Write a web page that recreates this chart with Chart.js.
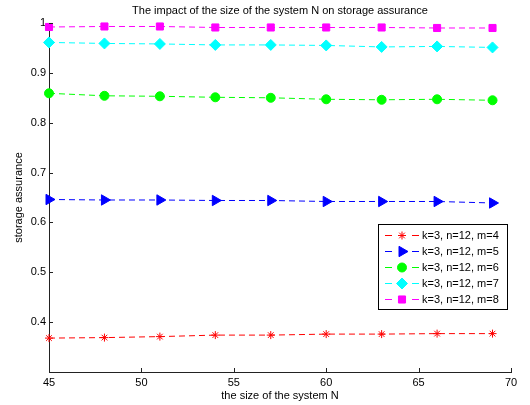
<!DOCTYPE html>
<html>
<head>
<meta charset="utf-8">
<script src="https://cdn.jsdelivr.net/npm/chart.js@4/dist/chart.umd.min.js"></script>
<style>
  body { margin: 0; background: #fff; }
  canvas { display: block; }
</style>
</head>
<body>
<canvas id="chart" width="530" height="405"></canvas>
<script>
const systemSizes = [45, 48, 51, 54, 57, 60, 63, 66, 69];
const m4 = [0.368, 0.369, 0.371, 0.374, 0.374, 0.376, 0.376, 0.377, 0.377];
const m5 = [0.646, 0.645, 0.645, 0.644, 0.644, 0.642, 0.642, 0.642, 0.639];
const m6 = [0.859, 0.854, 0.853, 0.851, 0.850, 0.847, 0.846, 0.847, 0.845];
const m7 = [0.961, 0.959, 0.958, 0.956, 0.956, 0.955, 0.952, 0.953, 0.951];
const m8 = [0.992, 0.993, 0.993, 0.991, 0.991, 0.991, 0.991, 0.990, 0.990];
const seriesLabels = ['k=3, n=12, m=4', 'k=3, n=12, m=5', 'k=3, n=12, m=6', 'k=3, n=12, m=7', 'k=3, n=12, m=8'];

const FONT = 'Liberation Sans, Arial, sans-serif';

function series(label, values, color, style, radius, rotation) {
  return {
    label: label,
    data: systemSizes.map((x, i) => ({x: x, y: values[i]})),
    borderColor: color,
    backgroundColor: color,
    borderWidth: 1,
    borderDash: [6, 4],
    pointStyle: style,
    pointRadius: radius,
    pointRotation: rotation || 0,
    pointBorderColor: color,
    pointBackgroundColor: color,
    pointBorderWidth: 1,
    clip: false,
  };
}

// inward tick marks, MATLAB style
const inwardTicks = {
  id: 'inwardTicks',
  afterDatasetsDraw(chart) {
    const ctx = chart.ctx;
    const {left, bottom} = chart.chartArea;
    ctx.save();
    ctx.strokeStyle = '#222';
    ctx.lineWidth = 1;
    ctx.beginPath();
    chart.scales.x.ticks.forEach(t => {
      const px = Math.round(chart.scales.x.getPixelForValue(t.value)) + 0.5;
      ctx.moveTo(px, bottom);
      ctx.lineTo(px, bottom - 4);
    });
    chart.scales.y.ticks.forEach(t => {
      const py = Math.round(chart.scales.y.getPixelForValue(t.value)) + 0.5;
      ctx.moveTo(left, py);
      ctx.lineTo(left + 4, py);
    });
    ctx.stroke();
    ctx.restore();
  }
};

const titleAndLegend = {
  id: 'titleAndLegend',
  afterDraw(chart) {
    const ctx = chart.ctx;
    const {left, right} = chart.chartArea;
    ctx.save();
    ctx.fillStyle = '#000';
    ctx.font = '11px ' + FONT;
    ctx.textAlign = 'center';
    ctx.textBaseline = 'middle';
    ctx.fillText('The impact of the size of the system N on storage assurance', (left + right) / 2, 11);

    // legend box
    const bx = 378.5, by = 224.5, bw = 129, bh = 85;
    ctx.fillStyle = '#fff';
    ctx.fillRect(bx, by, bw, bh);
    ctx.strokeStyle = '#000';
    ctx.lineWidth = 1;
    ctx.strokeRect(bx, by, bw, bh);
    chart.data.datasets.forEach((ds, i) => {
      const y = 235.5 + i * 16;
      ctx.strokeStyle = ds.borderColor;
      ctx.beginPath();
      ctx.moveTo(385, y); ctx.lineTo(392, y);
      ctx.moveTo(412, y); ctx.lineTo(419, y);
      ctx.stroke();
      ctx.fillStyle = ds.pointBackgroundColor;
      Chart.helpers.drawPoint(ctx, {
        pointStyle: ds.pointStyle,
        radius: ds.pointRadius,
        rotation: ds.pointRotation,
        borderWidth: 1,
      }, 402, y);
      ctx.fillStyle = '#000';
      ctx.textAlign = 'left';
      ctx.font = '11px ' + FONT;
      ctx.fillText(ds.label, 422, y);
    });
    ctx.restore();
  }
};

new Chart(document.getElementById('chart').getContext('2d'), {
  type: 'line',
  data: {
    datasets: [
      series(seriesLabels[0], m4, '#ff0000', 'star', 4),
      series(seriesLabels[1], m5, '#0000ff', 'triangle', 6, 90),
      series(seriesLabels[2], m6, '#00ff00', 'circle', 4.5),
      series(seriesLabels[3], m7, '#00ffff', 'rectRot', 5.5),
      series(seriesLabels[4], m8, '#ff00ff', 'rect', 5),
    ],
  },
  options: {
    responsive: false,
    animation: false,
    layout: {padding: {top: 23, right: 19, left: 0, bottom: 0}},
    plugins: {
      legend: {display: false},
      title: {display: false},
      tooltip: {enabled: false},
    },
    scales: {
      x: {
        type: 'linear',
        min: 45,
        max: 70,
        afterFit: s => { s.height = 33; },
        grid: {display: false, drawTicks: false, tickLength: 0},
        border: {display: true, color: '#222', width: 1},
        ticks: {stepSize: 5, padding: 4, color: '#000', font: {family: FONT, size: 11}, maxRotation: 0},
        title: {display: true, text: 'the size of the system N', color: '#000',
                font: {family: FONT, size: 11}, padding: {top: 0, bottom: 2}},
      },
      y: {
        min: 0.3,
        max: 1,
        afterFit: s => { s.width = 49; },
        grid: {display: false, drawTicks: false, tickLength: 0},
        border: {display: true, color: '#222', width: 1},
        ticks: {
          stepSize: 0.1, padding: 3, color: '#000', font: {family: FONT, size: 11},
          callback: v => Math.abs(v - 0.3) < 1e-6 ? '' : (Math.abs(v - 1) < 1e-6 ? '1' : v.toFixed(1)),
        },
        title: {display: true, text: 'storage assurance', color: '#000',
                font: {family: FONT, size: 11}, padding: {top: 12, bottom: 0}},
      },
    },
  },
  plugins: [inwardTicks, titleAndLegend],
});
</script>
</body>
</html>
